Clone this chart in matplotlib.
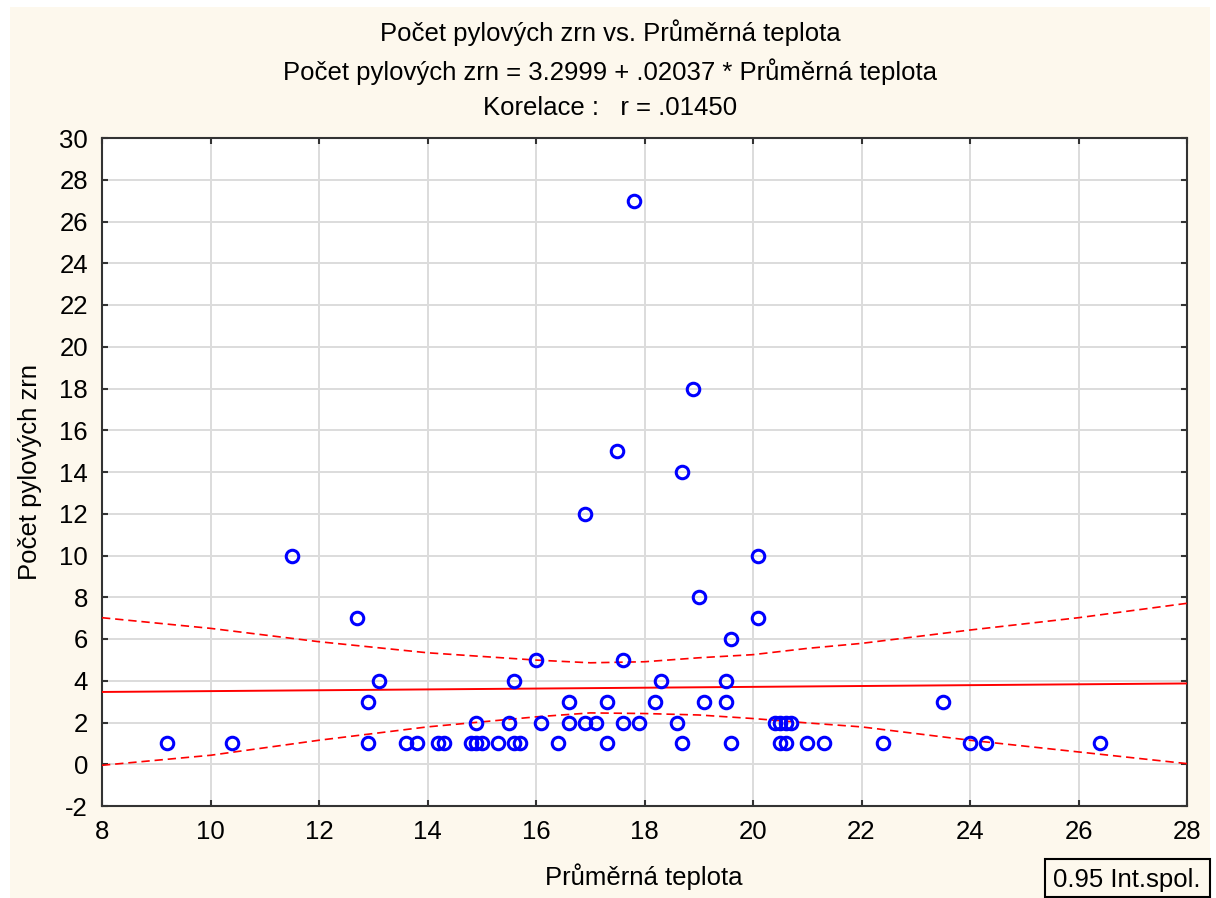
import matplotlib
matplotlib.use("Agg")
import matplotlib.pyplot as plt
from matplotlib.patches import Rectangle

plt.rcParams["font.family"] = ["Liberation Sans", "DejaVu Sans"]
plt.rcParams["lines.scale_dashes"] = False
plt.rcParams["axes.unicode_minus"] = False

# scatter data
teplota = [9.2, 10.4, 11.5, 12.7, 12.9, 12.9, 13.1, 13.6, 13.8, 14.2, 14.3,
           14.8, 14.9, 15.0, 14.9, 15.3, 15.5, 15.6, 15.6, 15.7, 16.0, 16.1,
           16.4, 16.6, 16.6, 16.9, 16.9, 17.1, 17.3, 17.3, 17.5, 17.6, 17.6,
           17.8, 17.9, 18.2, 18.3, 18.6, 18.7, 18.7, 18.9, 19.0, 19.1, 19.5,
           19.5, 19.6, 19.6, 20.1, 20.1, 20.4, 20.5, 20.6, 20.7, 20.5, 20.6,
           21.0, 21.3, 22.4, 23.5, 24.0, 24.3, 26.4]
zrna = [1, 1, 10, 7, 3, 1, 4, 1, 1, 1, 1,
        1, 1, 1, 2, 1, 2, 4, 1, 1, 5, 2,
        1, 3, 2, 12, 2, 2, 3, 1, 15, 5, 2,
        27, 2, 3, 4, 2, 14, 1, 18, 8, 3, 4,
        3, 6, 1, 10, 7, 2, 2, 2, 2, 1, 1,
        1, 1, 1, 3, 1, 1, 1]

# regression from the title
intercept = 3.2999
slope = 0.02037
fit_x = [8, 28]

# 0.95 confidence band
band_x = [8, 10, 12, 14, 16, 17, 18, 19, 20, 21, 22, 24, 26, 28]
band_hi = [7.02, 6.51, 5.87, 5.34, 4.99, 4.86, 4.91, 5.10, 5.25, 5.55, 5.79, 6.43, 7.02, 7.71]
band_lo = [-0.05, 0.43, 1.15, 1.79, 2.27, 2.46, 2.43, 2.36, 2.19, 1.98, 1.79, 1.15, 0.59, 0.03]

FS = 18.5
W, H = 1216, 898

fig = plt.figure(figsize=(W / 100, H / 100), dpi=100, facecolor="white")
fig.patches.append(Rectangle((10 / W, 0), 1200 / W, 891 / H,
                             transform=fig.transFigure, facecolor="#fdf8ed",
                             edgecolor="none", zorder=-10))
ax = fig.add_axes([102 / W, 92 / H, 1085 / W, 668 / H])
ax.set_facecolor("white")

ax.plot(fit_x, [intercept + slope * x for x in fit_x], color="#ff0000", lw=1.4, zorder=3)
ax.plot(band_x, band_hi, color="#ff0000", lw=1.2, dashes=(6, 3.5), zorder=3)
ax.plot(band_x, band_lo, color="#ff0000", lw=1.2, dashes=(6, 3.5), zorder=3)
ax.plot(teplota, zrna, "o", mfc="none", mec="#0000ff", ms=9, mew=2.2, zorder=4)

ax.set_xlim(8, 28)
ax.set_ylim(-2, 30)
ax.set_xticks(range(8, 29, 2))
ax.set_yticks(range(-2, 31, 2))
ax.grid(color="#dcdcdc", lw=1.4)
ax.set_axisbelow(True)
for s in ax.spines.values():
    s.set_color("#333333")
    s.set_linewidth(1.5)
ax.tick_params(direction="in", length=4, width=1.5, color="#333333",
               top=True, right=True, labelsize=FS, pad=10)

# axis labels placed in figure pixels
fig.text(644 / W, 1 - 877 / H, "Průměrná teplota", ha="center", va="center", fontsize=FS)
fig.text(30 / W, 1 - 472 / H, "Počet pylových zrn", ha="center", va="center",
         rotation=90, fontsize=FS)

fig.text(610 / W, 1 - 33 / H, "Počet pylových zrn vs. Průměrná teplota",
         ha="center", va="center", fontsize=FS)
fig.text(610 / W, 1 - 72 / H, "Počet pylových zrn = 3.2999 + .02037 * Průměrná teplota",
         ha="center", va="center", fontsize=FS)
fig.text(610 / W, 1 - 108 / H, "Korelace :   r = .01450",
         ha="center", va="center", fontsize=FS)

fig.patches.append(Rectangle((1045 / W, 0.001), 165 / W, 38 / H,
                             transform=fig.transFigure, facecolor="#fdf8ed",
                             edgecolor="black", lw=1.5))
fig.text(1127 / W, 1 - 880 / H, "0.95 Int.spol.", ha="center", va="center", fontsize=FS)

fig.savefig("out.png", dpi=100, facecolor=fig.get_facecolor())
